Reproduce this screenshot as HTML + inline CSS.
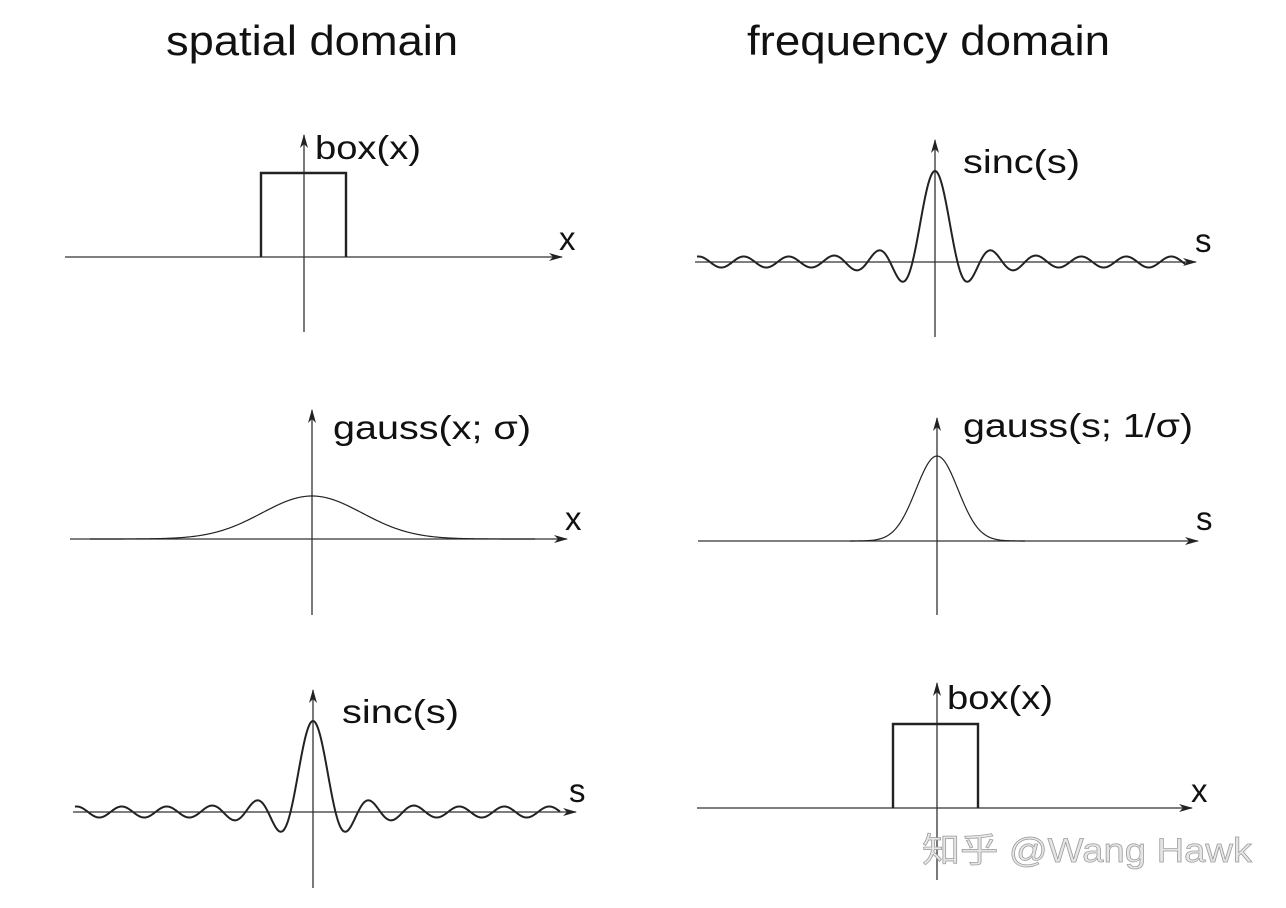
<!DOCTYPE html>
<html><head><meta charset="utf-8"><style>
html,body{margin:0;padding:0;background:#fff;width:1286px;height:908px;overflow:hidden}
svg{display:block}
text{font-family:"Liberation Sans",sans-serif;fill:#111}
.t{font-size:42px}
.l{font-size:33px}
.ax{stroke:#333;stroke-width:1.3;fill:none}
.c{stroke:#222;stroke-width:2;fill:none}
</style></head><body>
<svg id="s" width="1286" height="908" viewBox="0 0 1286 908">
<defs><marker id="a" markerWidth="14" markerHeight="8" refX="13" refY="4" orient="auto" markerUnits="userSpaceOnUse"><path d="M0,0 L14,4 L0,8 L4,4 Z" fill="#222"/></marker></defs>
<text class="t" x="166" y="55" textLength="292" lengthAdjust="spacingAndGlyphs">spatial domain</text>
<text class="t" x="747" y="55" textLength="363" lengthAdjust="spacingAndGlyphs">frequency domain</text>

<line class="ax" x1="65" y1="257" x2="562" y2="257" marker-end="url(#a)"/>
<line class="ax" x1="304" y1="332" x2="304" y2="135" marker-end="url(#a)"/>
<path class="c" d="M261,257 V173 H346 V257" style="stroke-width:2.4"/>
<text class="l" x="315" y="159" textLength="106" lengthAdjust="spacingAndGlyphs">box(x)</text>
<text class="l" x="559" y="250">x</text>

<line class="ax" x1="695" y1="262" x2="1196" y2="262" marker-end="url(#a)"/>
<line class="ax" x1="935" y1="337" x2="935" y2="140" marker-end="url(#a)"/>
<path id="p1" class="c"/>
<text class="l" x="963" y="173" textLength="117" lengthAdjust="spacingAndGlyphs">sinc(s)</text>
<text class="l" x="1195" y="252">s</text>

<line class="ax" x1="70" y1="539" x2="567" y2="539" marker-end="url(#a)"/>
<line class="ax" x1="312" y1="615" x2="312" y2="410" marker-end="url(#a)"/>
<path id="p2" class="c" style="stroke-width:1.2"/>
<text class="l" x="333" y="439" textLength="198" lengthAdjust="spacingAndGlyphs">gauss(x; σ)</text>
<text class="l" x="565" y="530">x</text>

<line class="ax" x1="698" y1="541" x2="1198" y2="541" marker-end="url(#a)"/>
<line class="ax" x1="937" y1="615" x2="937" y2="418" marker-end="url(#a)"/>
<path id="p3" class="c" style="stroke-width:1.2"/>
<text class="l" x="963" y="437" textLength="230" lengthAdjust="spacingAndGlyphs">gauss(s; 1/σ)</text>
<text class="l" x="1196" y="530">s</text>

<line class="ax" x1="73" y1="812" x2="576" y2="812" marker-end="url(#a)"/>
<line class="ax" x1="313" y1="888" x2="313" y2="690" marker-end="url(#a)"/>
<path id="p4" class="c"/>
<text class="l" x="342" y="723" textLength="117" lengthAdjust="spacingAndGlyphs">sinc(s)</text>
<text class="l" x="569" y="802">s</text>

<line class="ax" x1="697" y1="808" x2="1192" y2="808" marker-end="url(#a)"/>
<line class="ax" x1="937" y1="880" x2="937" y2="683" marker-end="url(#a)"/>
<path class="c" d="M893,808 V724 H978 V808" style="stroke-width:2.4"/>
<text class="l" x="947" y="709" textLength="106" lengthAdjust="spacingAndGlyphs">box(x)</text>
<text class="l" x="1191" y="802">x</text>

<text x="922" y="862" textLength="330" lengthAdjust="spacingAndGlyphs" style="font-family:'Liberation Sans','Noto Sans CJK SC',sans-serif;font-size:34px;fill:#e6e6e6;stroke:#999;stroke-width:0.7">知乎 @Wang Hawk</text>
</svg>
<script>
function sinc(cx,cy,x0,x1,amp,half){let d="";for(let x=x0;x<=x1;x+=1){let u=Math.abs(Math.PI*(x-cx)/half);let r=u<1e-6?amp:Math.sin(u)*Math.max(amp/u,5.5);d+=(x==x0?"M":"L")+x+","+(cy-r).toFixed(2);}return d;}
function gauss(cx,cy,x0,x1,amp,s){let d="";for(let x=x0;x<=x1;x+=1){let r=amp*Math.exp(-((x-cx)*(x-cx))/(2*s*s));d+=(x==x0?"M":"L")+x+","+(cy-r).toFixed(2);}return d;}
document.getElementById("p1").setAttribute("d",sinc(935,262,697,1185,91,22.5));
document.getElementById("p2").setAttribute("d",gauss(312,539,90,535,43,50));
document.getElementById("p3").setAttribute("d",gauss(937,541,850,1025,85,21));
document.getElementById("p4").setAttribute("d",sinc(313,812,75,560,91,22.5));
</script>
</body></html>
